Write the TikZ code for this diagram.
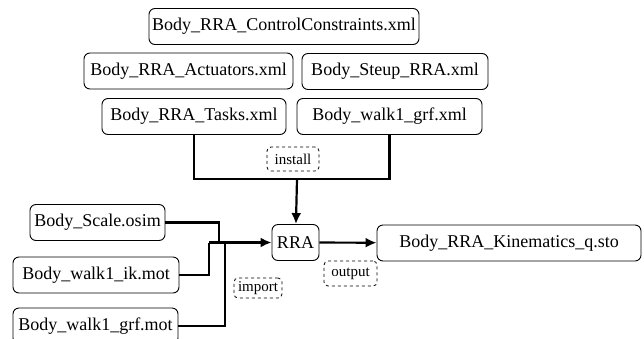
\documentclass[tikz,border=0pt]{standalone}
\usepackage{fontspec}
\setmainfont{Liberation Serif}
\newfontfamily\filefont{Liberation Serif}
\usetikzlibrary{arrows.meta}
\begin{document}
\begin{tikzpicture}[x=1pt, y=-1pt,
    file/.style={draw, rounded corners=6pt, line width=0.9pt, inner sep=1pt, minimum height=36pt, font=\filefont\fontsize{18}{20}\selectfont},
    tag/.style={draw, dashed, rounded corners=4pt, line width=0.8pt, inner sep=1pt, font=\filefont\fontsize{15}{17}\selectfont},
    conn/.style={line width=2.2pt},
    arrow/.style={line width=2.2pt, -{Latex[length=11pt, width=10pt]}}]
  \useasboundingbox (0,0) rectangle (644,338);

  % Setup files
  \node[file, minimum width=270pt] (cc) at (284,26.5) {Body\_RRA\_ControlConstraints.xml};
  \node[file, minimum width=209pt] (act) at (188.5,71) {Body\_RRA\_Actuators.xml};
  \node[file, minimum width=186pt] (steup) at (395,71.5) {Body\_Steup\_RRA.xml};
  \node[file, minimum width=184pt] (tasks) at (194,116.5) {Body\_RRA\_Tasks.xml};
  \node[file, minimum width=185pt] (grfxml) at (389.5,116.5) {Body\_walk1\_grf.xml};

  % Input files
  \node[file, minimum width=135pt] (scale) at (97.5,222.5) {Body\_Scale.osim};
  \node[file, minimum width=166pt] (ik) at (96,275) {Body\_walk1\_ik.mot};
  \node[file, minimum width=165pt] (grfmot) at (95.5,326) {Body\_walk1\_grf.mot};

  % Tool and result
  \node[file, minimum width=47pt] (rra) at (295.5,242.5) {RRA};
  \node[file, minimum width=264pt] (kin) at (509,243) {Body\_RRA\_Kinematics\_q.sto};

  % Labels
  \node[tag, minimum width=52pt, minimum height=24pt] (install) at (293,159) {install};
  \node[tag, minimum width=48pt, minimum height=20pt] (import) at (258,288) {import};
  \node[tag, minimum width=53pt, minimum height=25pt] (output) at (350.5,273.5) {output};

  % Joins
  \coordinate (installjoin) at (297,179);
  \coordinate (importjoin) at (209,242.5);
  \coordinate (scalejoin) at (219,242.5);
  \coordinate (grfjoin) at (225,242.5);

  % Connectors
  \draw[conn] (tasks) |- (installjoin) -| (grfxml);
  \draw[arrow] (installjoin) -- (rra);

  \draw[conn] (scale) -| (scalejoin);
  \draw[conn] (ik) -| (importjoin);
  \draw[conn] (grfmot) -| (grfjoin);
  \draw[arrow] (importjoin) -- (rra);

  \draw[arrow] (rra) -- (kin);
\end{tikzpicture}
\end{document}
